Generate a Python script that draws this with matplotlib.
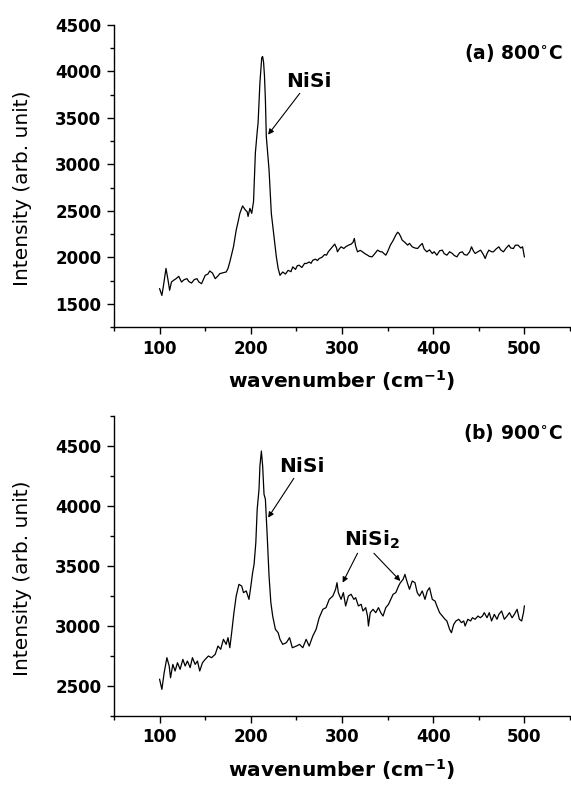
import matplotlib.pyplot as plt
from matplotlib.ticker import MultipleLocator

# Raman spectra

wn_a = [100, 102.5, 104, 107, 109, 111, 113, 115, 118, 121, 124, 127, 130, 132, 135,
        138, 141, 143, 146, 150, 153, 155, 158, 161, 164, 166, 170, 173, 175, 177,
        179, 181, 184, 186, 188, 191, 194, 196, 197, 199, 201, 203, 205, 207, 208,
        210, 212, 213, 214, 215, 216, 217, 220, 222.5, 225, 228, 230, 232, 235, 238,
        241, 244, 246, 249, 251, 253, 256, 259, 261, 264, 266, 268, 271, 273, 275,
        278, 281, 283, 285, 288, 290, 292, 294, 295, 297, 299, 302, 304, 307, 310,
        312, 313.5, 315, 317, 320, 322.5, 325, 328, 330, 333, 336, 339, 342, 344, 346,
        348, 350, 353, 356, 359, 361, 362.5, 364, 366, 369, 372, 374, 377, 380, 383,
        385, 388, 390, 393, 396, 399, 401, 404, 407, 410, 412, 415, 418, 421, 423,
        426, 429, 432, 434, 437, 440, 442, 444, 446, 449, 452, 455, 457, 459, 461,
        464, 466, 469, 472, 474, 477, 480, 483, 485, 488, 490, 493, 496, 498, 500]
int_a = [1662, 1590, 1680, 1880, 1770, 1645, 1734, 1750, 1770, 1795, 1734, 1760, 1770, 1740, 1723,
         1760, 1770, 1735, 1716, 1806, 1820, 1853, 1830, 1770, 1800, 1824, 1835, 1842, 1880, 1950,
         2030, 2113, 2293, 2380, 2473, 2553, 2510, 2490, 2440, 2527, 2473, 2600, 3122, 3350, 3447,
         3879, 4150, 4160, 4100, 3950, 3700, 3300, 2942, 2473, 2257, 2005, 1880, 1806, 1842, 1820,
         1860, 1845, 1897, 1870, 1910, 1915, 1890, 1935, 1933, 1950, 1935, 1969, 1980, 1965, 1987,
         2000, 2030, 2023, 2060, 2095, 2120, 2142, 2100, 2059, 2090, 2113, 2095, 2113, 2130, 2142,
         2160, 2203, 2120, 2059, 2075, 2059, 2040, 2023, 2010, 2005, 2040, 2077, 2060, 2059, 2040,
         2023, 2060, 2131, 2180, 2239, 2270, 2257, 2230, 2185, 2160, 2131, 2150, 2113, 2100, 2095,
         2120, 2149, 2090, 2059, 2080, 2041, 2060, 2023, 2070, 2077, 2040, 2023, 2060, 2041, 2020,
         2005, 2050, 2059, 2030, 2023, 2060, 2113, 2070, 2041, 2060, 2077, 2030, 1987, 2040, 2077,
         2060, 2059, 2090, 2113, 2080, 2059, 2100, 2131, 2100, 2095, 2130, 2131, 2100, 2113, 2005]

wn_b = [100, 102.5, 105, 108, 110.5, 112, 114.5, 117, 119.6, 122.5, 125.5, 128, 130.5, 133.5, 136,
        139, 141.5, 144, 147, 150, 153.5, 157, 161, 164, 167, 170, 173, 175, 177, 179,
        181.5, 184, 187, 190, 192, 195, 198, 199.6, 202, 203.6, 205.5, 207, 209, 210, 211.6,
        213, 214.5, 216, 218, 220, 222, 224, 227, 230, 232, 235, 239, 242.5, 245.5, 250,
        253.5, 257, 260.7, 264, 268, 271.6, 275, 279, 282.5, 286, 290, 293, 294.5, 296, 299,
        301.5, 304, 307, 310, 313, 315, 318, 321, 323, 326, 328, 329, 331, 334, 337,
        340, 342.5, 345, 348, 351, 353.5, 356, 359, 362, 364, 367, 369, 371.6, 374, 377,
        380, 382.5, 385, 388, 391, 393.5, 396, 399, 402, 404, 407, 410, 413, 415, 418,
        420, 422.5, 425, 428, 431, 433.5, 435, 438, 441, 443, 446, 449, 451.6, 454, 456,
        459, 461.5, 464, 467, 470, 472, 475, 478, 481, 483.6, 486.5, 489, 492, 494.5, 497,
        499, 500]
int_b = [2556, 2472, 2611, 2736, 2667, 2569, 2680, 2625, 2694, 2639, 2722, 2667, 2708, 2653, 2736,
         2680, 2708, 2625, 2694, 2722, 2750, 2736, 2764, 2833, 2806, 2889, 2847, 2903, 2819, 2944,
         3111, 3250, 3347, 3333, 3278, 3292, 3222, 3306, 3444, 3514, 3694, 3972, 4139, 4333, 4458,
         4333, 4097, 4056, 3750, 3417, 3194, 3083, 2972, 2944, 2889, 2847, 2861, 2903, 2819, 2833,
         2847, 2819, 2889, 2833, 2917, 2972, 3069, 3139, 3153, 3222, 3250, 3306, 3361, 3278, 3222,
         3278, 3167, 3250, 3264, 3222, 3236, 3167, 3181, 3125, 3153, 3083, 3000, 3111, 3139, 3111,
         3153, 3111, 3083, 3153, 3181, 3222, 3264, 3278, 3333, 3361, 3389, 3430, 3361, 3306, 3375,
         3361, 3278, 3250, 3292, 3222, 3292, 3319, 3222, 3208, 3167, 3111, 3083, 3056, 3042, 2972,
         2944, 3014, 3042, 3056, 3028, 3042, 3000, 3056, 3042, 3069, 3056, 3083, 3069, 3083, 3111,
         3069, 3111, 3042, 3097, 3056, 3097, 3125, 3056, 3083, 3111, 3069, 3097, 3139, 3056, 3042,
         3111, 3167]

plt.rcParams['font.family'] = 'DejaVu Sans'
plt.rcParams['mathtext.default'] = 'bf'

fig = plt.figure(figsize=(5.71, 7.86), dpi=100)
ax1 = fig.add_axes([114 / 571, 1 - 327 / 786, 456 / 571, 302 / 786])
ax2 = fig.add_axes([114 / 571, 1 - 716 / 786, 456 / 571, 300 / 786])

arrow = dict(arrowstyle='-|>', color='black', lw=0.8, mutation_scale=8,
             shrinkA=0, shrinkB=0)


def style_axes(ax, ylim):
    ax.set_xlim(50, 550)
    ax.set_ylim(*ylim)
    ax.spines['top'].set_visible(False)
    ax.spines['right'].set_visible(False)
    ax.spines['left'].set_linewidth(1.0)
    ax.spines['bottom'].set_linewidth(1.0)
    ax.xaxis.set_major_locator(MultipleLocator(100))
    ax.xaxis.set_minor_locator(MultipleLocator(50))
    ax.yaxis.set_major_locator(MultipleLocator(500))
    ax.yaxis.set_minor_locator(MultipleLocator(250))
    ax.tick_params(which='major', direction='out', length=5, width=1.0,
                   labelsize=12, pad=4)
    ax.tick_params(which='minor', direction='out', length=3, width=1.0)
    ax.set_xticks([100, 200, 300, 400, 500])
    for lab in ax.get_xticklabels() + ax.get_yticklabels():
        lab.set_fontweight('bold')
    ax.set_xlabel('wavenumber (cm$^{-1}$)', fontsize=14.5, fontweight='bold')
    ax.xaxis.set_label_coords(0.5, -41 / 302)
    ax.set_ylabel('Intensity (arb. unit)', fontsize=14.5, va='center')
    ax.yaxis.set_label_coords(-0.2, 0.46)


# (a) 800 C

ax1.plot(wn_a, int_a, color='black', lw=0.9)
style_axes(ax1, (1250, 4500))
ax1.set_yticks([1500, 2000, 2500, 3000, 3500, 4000, 4500])
for lab in ax1.get_yticklabels():
    lab.set_fontweight('bold')
ax1.text(542, 4200, '(a) 800$^{\\circ}$C', ha='right', va='center',
         fontsize=13.5, fontweight='bold')
ax1.annotate('NiSi', xy=(219, 3320), xytext=(264, 3897), ha='center', va='center',
             fontsize=14.5, fontweight='bold', arrowprops=arrow)

# (b) 900 C

ax2.plot(wn_b, int_b, color='black', lw=0.9)
style_axes(ax2, (2250, 4750))
ax2.set_yticks([2500, 3000, 3500, 4000, 4500])
for lab in ax2.get_yticklabels():
    lab.set_fontweight('bold')
ax2.text(542, 4606, '(b) 900$^{\\circ}$C', ha='right', va='center',
         fontsize=13.5, fontweight='bold')
ax2.annotate('NiSi', xy=(219, 3903), xytext=(256, 4333), ha='center', va='center',
             fontsize=14.5, fontweight='bold', arrowprops=arrow)
ax2.text(302, 3722, 'NiSi$_2$', ha='left', va='center', fontsize=14.5,
         fontweight='bold')
ax2.annotate('', xy=(300.7, 3361), xytext=(317, 3606), arrowprops=arrow)
ax2.annotate('', xy=(364, 3375), xytext=(335, 3606), arrowprops=arrow)

plt.savefig('out.png', dpi=100)
plt.close()
print("Graph saved as out.png")
